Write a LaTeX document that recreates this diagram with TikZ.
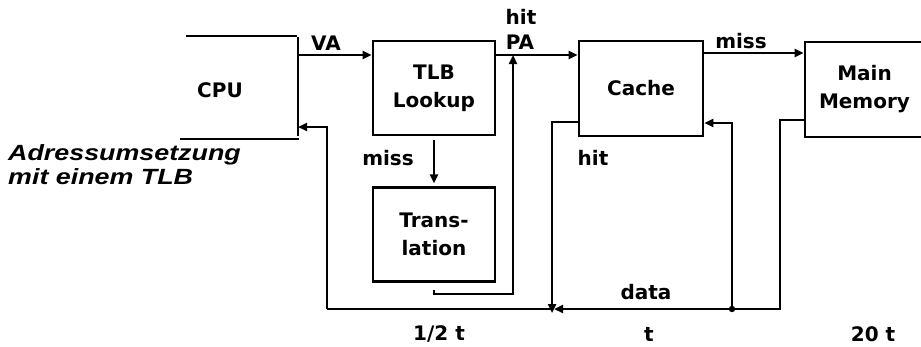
\documentclass[tikz,border=0pt]{standalone}
\usepackage{fontspec}
\setmainfont{DejaVu Sans}
\newfontfamily\capfont[FakeStretch=1.22]{Liberation Sans}
\usetikzlibrary{arrows.meta,positioning}

\newcommand\diafont{\fontsize{20}{28}\selectfont\bfseries}

\begin{document}
\begin{tikzpicture}[
    x=1pt,y=-1pt,
    box/.style={draw,line width=2.8pt,minimum width=122pt,minimum height=94pt,
                inner sep=0pt,align=center,font=\diafont},
    lbl/.style={font=\diafont,inner sep=0pt},
    wire/.style={line width=2.8pt},
    arr/.style={-{Triangle[length=9pt,width=8pt]},line width=2.8pt}
  ]
  \useasboundingbox (0,0) rectangle (921,346);

  % CPU, open on the left
  \node[lbl] (cpu) at (220,90) {CPU};
  \draw[wire] (186,36) -- (297,36);
  \draw[wire] (298,37) -- (298,136);
  \draw[wire] (180,139) -- (299,139);
  \coordinate (va) at (298,55);
  \coordinate (cpuin) at (298,127);

  \node[box] (tlb) at (434,88) {TLB\\Lookup};
  \node[box,below=50pt of tlb] (trans) {Trans-\\lation};
  \node[box,minimum width=124pt,minimum height=95pt] (cache) at (641,88.5) {Cache};
  \node[box,minimum width=119pt,minimum height=95pt] (mem) at (864.5,89.5) {Main\\Memory};

  \node[anchor=west,align=left,inner sep=0pt,
        font=\capfont\fontsize{22}{24}\selectfont\bfseries\itshape] (title) at (8,165)
        {Adressumsetzung\\mit einem TLB};

  % labels
  \node[lbl] (lva) at (326,43) {VA};
  \node[lbl] (lhit1) at (521,17) {hit};
  \node[lbl] (lpa) at (520,42) {PA};
  \node[lbl] (lmiss1) at (388,158) {miss};
  \node[lbl] (lmiss2) at (741,41) {miss};
  \node[lbl] (lhit2) at (593,158) {hit};
  \node[lbl] (ldata) at (646,292) {data};
  \node[lbl] (ltlb) at (439,334) {1/2 t};
  \node[lbl] (lcache) at (649,334) {t};
  \node[lbl] (lmem) at (873,334) {20 t};

  % forward path
  \coordinate (hp) at (513,55);
  \coordinate (tk) at (434,294);
  \draw[arr] (va) -- (va -| tlb.west);
  \draw[arr] (va -| tlb.east) -- (va -| cache.west);
  \draw[arr,shorten <=4pt,shorten >=3pt] (tlb.south) -- (trans.north);
  \draw[arr] ([yshift=-7pt]trans.south) -- (tk) -| (hp);
  \draw[arr] ([yshift=35.5pt]cache.east) -- ([yshift=35.5pt]cache.east -| mem.west);

  % data bus back to the CPU
  \coordinate (join) at (552,309);
  \coordinate (bus) at (327,309);
  \coordinate (tap) at (732,309);
  \draw[arr] ([yshift=-30.5pt]mem.west) -- (780,120) -- (780,309) -- ([xshift=2pt]join);
  \draw[arr] ([yshift=-33.5pt]cache.west) -- (552,122) -- ([yshift=-4pt]join);
  \draw[wire] (join) -- (bus);
  \draw[arr] (bus) |- (cpuin);
  \fill (tap) circle (3.2pt);
  \draw[arr] (tap) -- (732,123) -- (cache.east |- 0,123);
\end{tikzpicture}
\end{document}
